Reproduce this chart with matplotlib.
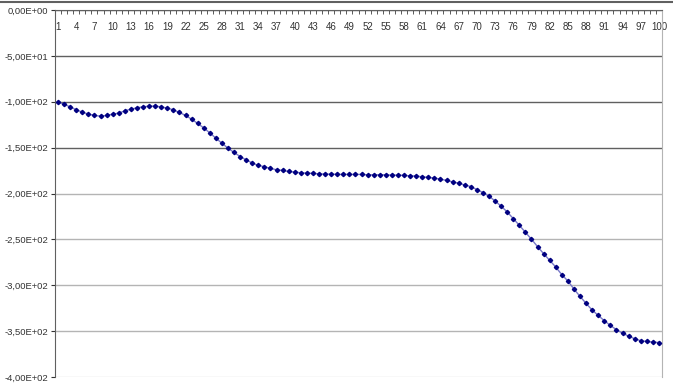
import matplotlib
matplotlib.use('Agg')
import matplotlib.pyplot as plt
from matplotlib.lines import Line2D
from matplotlib.ticker import FixedLocator, FuncFormatter
import numpy as np

# values, one per category 1..100
values = [
    -100.0, -102.9, -105.5, -108.8, -111.3, -113.5, -114.9, -115.7, -114.9, -113.5,
    -112.4, -109.9, -108.1, -106.6, -105.5, -104.8, -104.8, -105.5, -107.0, -108.8,
    -111.7, -114.9, -119.0, -123.6, -128.5, -133.9, -139.7, -145.2, -150.6, -155.3,
    -159.7, -163.4, -166.8, -169.4, -170.8, -172.7, -174.1, -174.9, -176.0, -176.7,
    -177.4, -177.8, -178.1, -178.5, -178.9, -178.9, -179.2, -179.2, -179.2, -179.2,
    -179.2, -179.6, -179.6, -179.6, -179.6, -180.0, -180.0, -180.3, -180.7, -181.0,
    -181.8, -182.5, -183.2, -184.3, -185.8, -187.3, -188.8, -190.7, -192.5, -195.7,
    -199.0, -203.0, -208.1, -213.9, -220.1, -227.4, -234.7, -242.3, -249.9, -257.9,
    -265.6, -272.9, -280.2, -288.5, -295.4, -304.2, -312.2, -319.8, -327.1, -332.9,
    -338.7, -343.8, -348.5, -352.2, -355.5, -358.3, -360.5, -361.3, -362.0, -362.4,
]
categories = list(range(1, len(values) + 1))
x_labels = list(range(1, 101, 3))
y_ticks = [0, -50, -100, -150, -200, -250, -300, -350, -400]
grid_colors = ['#606060', '#606060', '#606060', '#606060',
               '#b4b4b4', '#b4b4b4', '#b4b4b4', '#b4b4b4', '#dcdcdc']

plt.rcParams['font.family'] = ['Liberation Sans', 'DejaVu Sans']

fig = plt.figure(figsize=(6.73, 3.89), dpi=100)
ax = fig.add_axes([55 / 673, 12 / 389, 607 / 673, 367 / 389])

# horizontal gridlines, each with its own grey
for val, col in zip(y_ticks, grid_colors):
    ax.axhline(val, color=col, lw=1.0, zorder=1)

ax.plot(categories, values, color='#7878c8', lw=1.0, zorder=2)
ax.plot(categories, values, ls='none', marker='D', ms=2.2,
        color='#000080', mec='#000080', zorder=3)

ax.set_xlim(0.5, len(values) + 0.5)
ax.set_ylim(-400, 0)

# category axis sits on top (crosses at 0)
ax.xaxis.tick_top()
ax.xaxis.set_major_locator(FixedLocator(x_labels))
ax.xaxis.set_major_formatter(FuncFormatter(lambda v, p: str(int(round(v)))))
ax.tick_params(axis='x', which='major', length=0, pad=-16, labelsize=7,
               colors='#333333')
ax.xaxis.set_minor_locator(FixedLocator(np.arange(0.5, len(values) + 1, 1.0)))
ax.tick_params(axis='x', which='minor', direction='in', length=3,
               color='#404040', top=True, bottom=False)

ax.yaxis.set_major_locator(FixedLocator(y_ticks))
ax.yaxis.set_major_formatter(FuncFormatter(
    lambda v, p: f"{v:.2E}".replace('.', ',') if v != 0 else "0,00E+00"))
ax.tick_params(axis='y', length=3, direction='out', labelsize=6.8,
               colors='#333333', pad=2)

for side in ['left', 'top']:
    ax.spines[side].set_color('#606060')
ax.spines['right'].set_color('#b4b4b4')
ax.spines['bottom'].set_visible(False)

# chart area border line along the top
fig.add_artist(Line2D([0, 1], [1 - 1.5 / 389, 1 - 1.5 / 389],
                      transform=fig.transFigure, color='#606060', lw=1.5))

fig.savefig('out.png', dpi=100)
